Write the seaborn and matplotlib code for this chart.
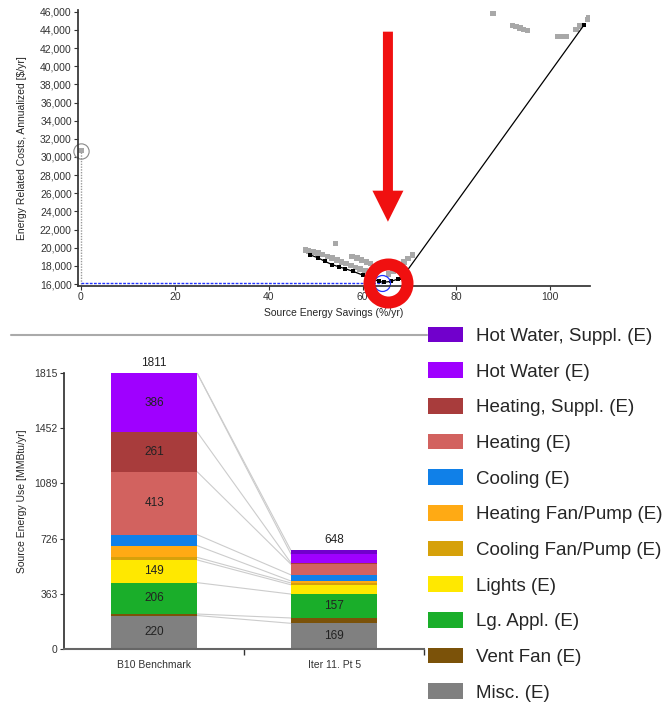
import seaborn as sns
import matplotlib.pyplot as plt
from matplotlib.patches import Patch, FancyArrow
from matplotlib.lines import Line2D
from matplotlib.ticker import StrMethodFormatter

# --- top chart: all runs (gray) and pareto front (black) ---
gray_x = [47.8, 48.5, 49.5, 50.5, 51.5, 52.5, 53.5, 54.5, 55.5, 56.5, 57.5, 58.5,
          59.5, 60.5, 61.5, 62.5, 54.2, 57.8, 58.8, 59.8, 60.8, 61.7, 68.8, 69.7,
          70.6, 65.5, 66.5, 67.2, 87.8, 91.9, 92.7, 93.5, 94.3, 95.1, 101.5, 102.4,
          103.3, 105.4, 106.2, 107.9, 108.1, 0.0]
gray_y = [19750, 19650, 19550, 19400, 19250, 19050, 18850, 18650, 18450, 18250, 18050, 17850,
          17650, 17450, 17250, 17000, 20450, 19050, 18850, 18650, 18450, 18280, 18450, 18800,
          19200, 17100, 17400, 17600, 45780, 44490, 44350, 44200, 44050, 43910, 43280, 43280,
          43280, 44020, 44400, 45120, 45300, 30700]
front_x = [48.9, 50.5, 52.0, 53.5, 55.0, 56.3, 58.0, 60.0, 62.0, 63.5, 64.5, 66.0, 67.5, 68.4, 107.1]
front_y = [19200, 18900, 18500, 18150, 17900, 17700, 17400, 17000, 16600, 16300, 16200, 16300,
           16550, 16700, 44490]
base_pt = (0.0, 30700)
opt_pt = (64.2, 16140)
ring_pt = (65.4, 16110)
arrow_x, arrow_top, arrow_tip = 65.4, 43800, 22870

# --- bottom chart: end-use breakdown (bottom to top) ---
categories = ["Misc. (E)", "Vent Fan (E)", "Lg. Appl. (E)", "Lights (E)", "Cooling Fan/Pump (E)",
              "Heating Fan/Pump (E)", "Cooling (E)", "Heating (E)", "Heating, Suppl. (E)",
              "Hot Water (E)", "Hot Water, Suppl. (E)"]
colors = ["#808080", "#7b5209", "#1aae2a", "#ffe800", "#d6a10a", "#ffaa14", "#1080e8",
          "#d2625f", "#a83c3c", "#9f00ff", "#7100cc"]
benchmark = [220, 10, 206, 149, 17, 77, 72, 413, 261, 386, 0]
iter11 = [169, 35, 157, 61, 12, 13, 40, 70, 9, 58, 24]
bar_names = ["B10 Benchmark", "Iter 11. Pt 5"]
totals = [1811, 648]
y_ticks = [0, 363, 726, 1089, 1452, 1815]

sns.set_theme(style="ticks")
plt.rcParams["font.family"] = ["Liberation Sans", "DejaVu Sans"]
plt.rcParams["axes.edgecolor"] = "#333333"
plt.rcParams["xtick.color"] = "#333333"
plt.rcParams["ytick.color"] = "#333333"

fig = plt.figure(figsize=(6.67, 7.06), dpi=100)

# top scatter
ax1 = fig.add_axes([0.117, 0.595, 0.768, 0.391])
ax1.plot([0, 0], [16000, base_pt[1]], color="#999999", lw=1, ls=(0, (1, 1)))
ax1.plot([0, opt_pt[0]], [opt_pt[1], opt_pt[1]], color="#2233ff", lw=1, ls=(0, (2, 1)))
sns.scatterplot(x=gray_x, y=gray_y, marker="s", s=16, color="#a8a8a8", edgecolor="none", ax=ax1)
sns.lineplot(x=front_x, y=front_y, sort=False, color="black", lw=0.9, marker="s",
             markersize=3.5, markeredgewidth=0, ax=ax1)
ax1.plot(*base_pt, marker="o", ms=11, mfc="none", mec="#888888", mew=0.8, clip_on=False)
ax1.plot(*opt_pt, marker="o", ms=11.5, mfc="none", mec="#2233ff", mew=0.9, clip_on=False)
ax1.plot(*ring_pt, marker="o", ms=27.4, mfc="none", mec="#f01010", mew=8.6, clip_on=False, zorder=5)
ax1.add_patch(FancyArrow(arrow_x, arrow_top, 0, arrow_tip - arrow_top, width=2.13, head_width=6.6,
                         head_length=3420, length_includes_head=True, color="#f01010", lw=0, zorder=5))
ax1.set_xlim(-0.6, 108.5)
ax1.set_ylim(15800, 46200)
ax1.set_xticks([0, 20, 40, 60, 80, 100])
ax1.set_yticks(range(16000, 46001, 2000))
ax1.yaxis.set_major_formatter(StrMethodFormatter("{x:,.0f}"))
ax1.tick_params(labelsize=7.5, length=3, width=0.8, pad=1.5)
ax1.set_xlabel("Source Energy Savings (%/yr)", fontsize=7.5)
ax1.set_ylabel("Energy Related Costs, Annualized [$/yr]", fontsize=7.5)
ax1.xaxis.set_label_coords(0.5, -0.08)
ax1.yaxis.set_label_coords(-0.1, 0.5)
sns.despine(ax=ax1)

# separator
fig.add_artist(Line2D([11 / 667, 427 / 667], [1 - 335 / 706] * 2, color="#aaaaaa", lw=1.5))

# bottom stacked bars
ax2 = fig.add_axes([0.096, 0.0807, 0.54, 0.3913])
width = 0.48
for xi, vals in enumerate([benchmark, iter11]):
    bottom = 0
    for cat, col, v in zip(categories, colors, vals):
        ax2.bar(xi, v, bottom=bottom, width=width, color=col, edgecolor="none")
        if v >= 100:
            ax2.text(xi, bottom + v / 2, str(v), ha="center", va="center", fontsize=8.5, color="#222222")
        bottom += v
    ax2.annotate(str(totals[xi]), (xi, totals[xi]), xytext=(0, 3), textcoords="offset points",
                 ha="center", va="bottom", fontsize=8.5, color="#222222")

# connector lines between segment boundaries
cum_a, cum_b = 0, 0
for va, vb in zip(benchmark, iter11):
    cum_a += va
    cum_b += vb
    ax2.plot([width / 2, 1 - width / 2], [cum_a, cum_b], color="#cccccc", lw=0.8, zorder=0)

ax2.set_xlim(-0.5, 1.5)
ax2.set_ylim(0, 1815)
ax2.set_yticks(y_ticks)
ax2.set_xticks([0, 1])
ax2.set_xticklabels(bar_names)
ax2.set_xticks([0.5, 1.5], minor=True)
ax2.tick_params(axis="x", which="major", length=0, labelsize=7.5, pad=8)
ax2.tick_params(axis="x", which="minor", length=4, width=1)
ax2.tick_params(axis="y", labelsize=7.5, length=3, width=0.8, pad=1.5)
ax2.set_ylabel("Source Energy Use [MMBtu/yr]", fontsize=7.5)
ax2.yaxis.set_label_coords(-0.103, 0.534)
sns.despine(ax=ax2)
ax2.spines["bottom"].set_color("#666666")
ax2.spines["bottom"].set_linewidth(1.5)

handles = [Patch(facecolor=c, edgecolor="none") for c in colors[::-1]]
fig.legend(handles, categories[::-1], loc="upper left", bbox_to_anchor=(0.642, 0.5374),
           frameon=False, fontsize=13.5, handlelength=1.87, handleheight=0.9,
           handletextpad=0.7, labelspacing=0.93, borderpad=0, borderaxespad=0)

fig.savefig("out.png", dpi=100)
